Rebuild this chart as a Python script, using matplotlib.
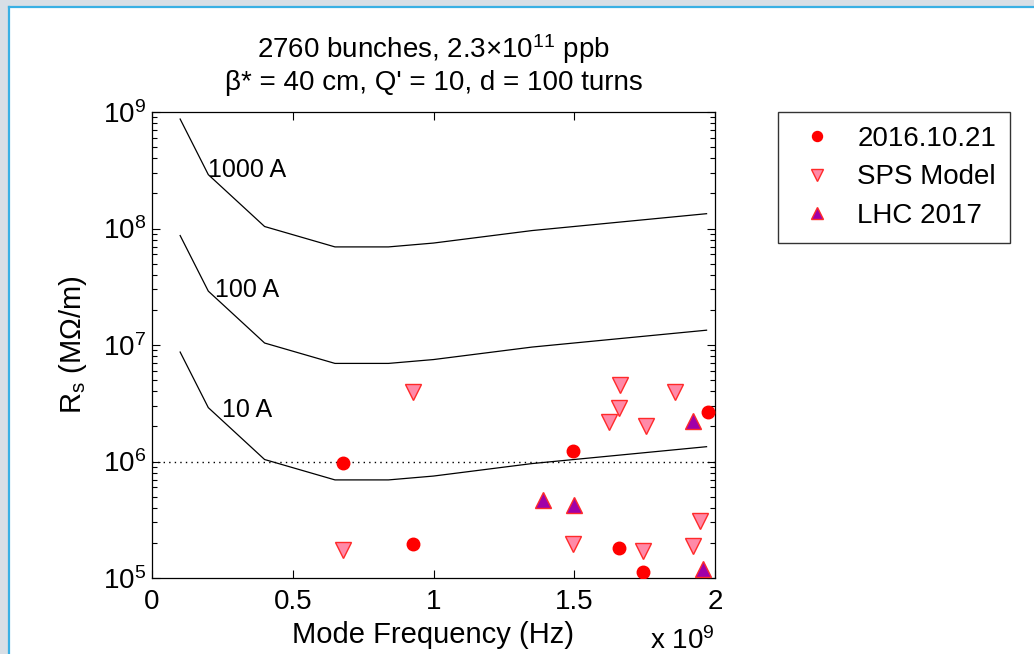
import matplotlib
matplotlib.use("Agg")
import matplotlib.pyplot as plt
import matplotlib.patches as patches
from matplotlib.ticker import LogLocator, FixedLocator, NullFormatter

plt.rcParams['font.family'] = ['Liberation Sans', 'DejaVu Sans']
plt.rcParams['mathtext.fontset'] = 'custom'
plt.rcParams['mathtext.rm'] = 'Liberation Sans'
plt.rcParams['mathtext.it'] = 'Liberation Sans:italic'

# threshold curves (Hz, Ohm/m)
f_curve = [0.1e9, 0.2e9, 0.4e9, 0.65e9, 0.84e9, 1.0e9, 1.35e9, 1.97e9]
r_1000A = [8.7e8, 2.9e8, 1.04e8, 6.95e7, 6.95e7, 7.5e7, 9.6e7, 1.34e8]
r_100A = [8.7e7, 2.9e7, 1.04e7, 6.95e6, 6.95e6, 7.5e6, 9.6e6, 1.34e7]
r_10A = [8.7e6, 2.9e6, 1.04e6, 6.95e5, 6.95e5, 7.5e5, 9.6e5, 1.34e6]
curve_labels = ["1000 A", "100 A", "10 A"]
label_x = [0.2e9, 0.225e9, 0.25e9]
label_y = [3.2e8, 2.97e7, 2.77e6]

# measurement 2016.10.21
f_meas = [0.678e9, 0.927e9, 1.496e9, 1.659e9, 1.743e9, 1.974e9]
r_meas = [0.97e6, 1.96e5, 1.24e6, 1.8e5, 1.13e5, 2.68e6]

# SPS model
f_sps = [0.926e9, 0.679e9, 1.662e9, 1.659e9, 1.622e9, 1.754e9, 1.858e9,
         1.497e9, 1.743e9, 1.921e9, 1.947e9]
r_sps = [3.97e6, 1.74e5, 4.54e6, 2.86e6, 2.17e6, 2.02e6, 3.97e6,
         1.95e5, 1.71e5, 1.89e5, 3.1e5]

# LHC 2017
f_lhc = [1.390e9, 1.499e9, 1.921e9, 1.956e9]
r_lhc = [4.68e5, 4.24e5, 2.24e6, 1.19e5]

fig = plt.figure(figsize=(10.34, 6.54), dpi=100)
fig.patch.set_facecolor("white")

# screenshot frame (grey strip + blue edge on top and left)
fig.patches.append(patches.Rectangle((0, 1 - 6 / 654), 1, 6 / 654, transform=fig.transFigure,
                                     facecolor="#d8dfe6", edgecolor="none", zorder=0))
fig.patches.append(patches.Rectangle((0, 0), 8 / 1034, 1, transform=fig.transFigure,
                                     facecolor="#d8dfe6", edgecolor="none", zorder=0))
fig.lines.append(plt.Line2D([8.5 / 1034, 1], [1 - 6.5 / 654, 1 - 6.5 / 654], transform=fig.transFigure,
                            color="#39b0e4", lw=1.6))
fig.lines.append(plt.Line2D([8.5 / 1034, 8.5 / 1034], [0, 1 - 6.5 / 654], transform=fig.transFigure,
                            color="#39b0e4", lw=1.6))

ax = fig.add_axes([152 / 1034, 76 / 654, 563 / 1034, 466 / 654])

for r in [r_1000A, r_100A, r_10A]:
    ax.plot(f_curve, r, color="black", lw=0.9)
for lab, lx, ly in zip(curve_labels, label_x, label_y):
    ax.text(lx, ly, lab, fontsize=18, ha="left", va="center")

ax.axhline(1e6, color="black", lw=1.0, ls=(0, (1, 3)))

ax.plot(f_meas, r_meas, "o", ms=9, mfc="#ff0000", mec="#ff0000", label="2016.10.21", zorder=5)
ax.plot(f_sps, r_sps, "v", ms=11, mfc="#ff8aa8", mec="#ff2a2a", mew=1.0, label="SPS Model", zorder=5)
ax.plot(f_lhc, r_lhc, "^", ms=11, mfc="#a000a8", mec="#ff2a2a", mew=1.0, label="LHC 2017", zorder=5)

ax.set_yscale("log")
ax.set_xlim(0, 2e9)
ax.set_ylim(1e5, 1e9)
ax.set_xticks([0, 0.5e9, 1e9, 1.5e9, 2e9])
ax.set_xticklabels(["0", "0.5", "1", "1.5", "2"])
ax.yaxis.set_major_locator(FixedLocator([1e5, 1e6, 1e7, 1e8, 1e9]))
ax.yaxis.set_minor_locator(LogLocator(base=10, subs=range(2, 10)))
ax.yaxis.set_minor_formatter(NullFormatter())
ax.tick_params(axis="both", which="both", direction="in", top=True, right=True, labelsize=20)
ax.tick_params(axis="both", which="major", length=6, width=0.8)
ax.tick_params(axis="y", which="minor", length=3.5, width=0.8)
ax.tick_params(axis="x", pad=8)
ax.tick_params(axis="y", pad=4)
for s in ax.spines.values():
    s.set_linewidth(0.9)

ax.set_xlabel("Mode Frequency (Hz)", fontsize=21, labelpad=4)
ax.set_ylabel(r"R$_\mathregular{s}$ (M$\Omega$/m)", fontsize=21, labelpad=10)
ax.set_title("2760 bunches, 2.3" + r"$\times$" + "10$^{11}$ ppb\n"
             "β* = 40 cm, Q' = 10, d = 100 turns", fontsize=20, pad=16, linespacing=1.2)
ax.text(0.885, -0.135, r"x 10$^\mathregular{9}$", transform=ax.transAxes, fontsize=20,
        ha="left", va="center")

leg = fig.legend(loc="upper left", bbox_to_anchor=(778 / 1034, 1 - 112 / 654), fontsize=20,
                 frameon=True, fancybox=False, edgecolor="black", borderpad=0.5,
                 handlelength=1.8, handletextpad=0.55, labelspacing=0.45, borderaxespad=0,
                 markerscale=0.8)
leg.get_frame().set_linewidth(1.0)

fig.savefig("out.png", dpi=100)
